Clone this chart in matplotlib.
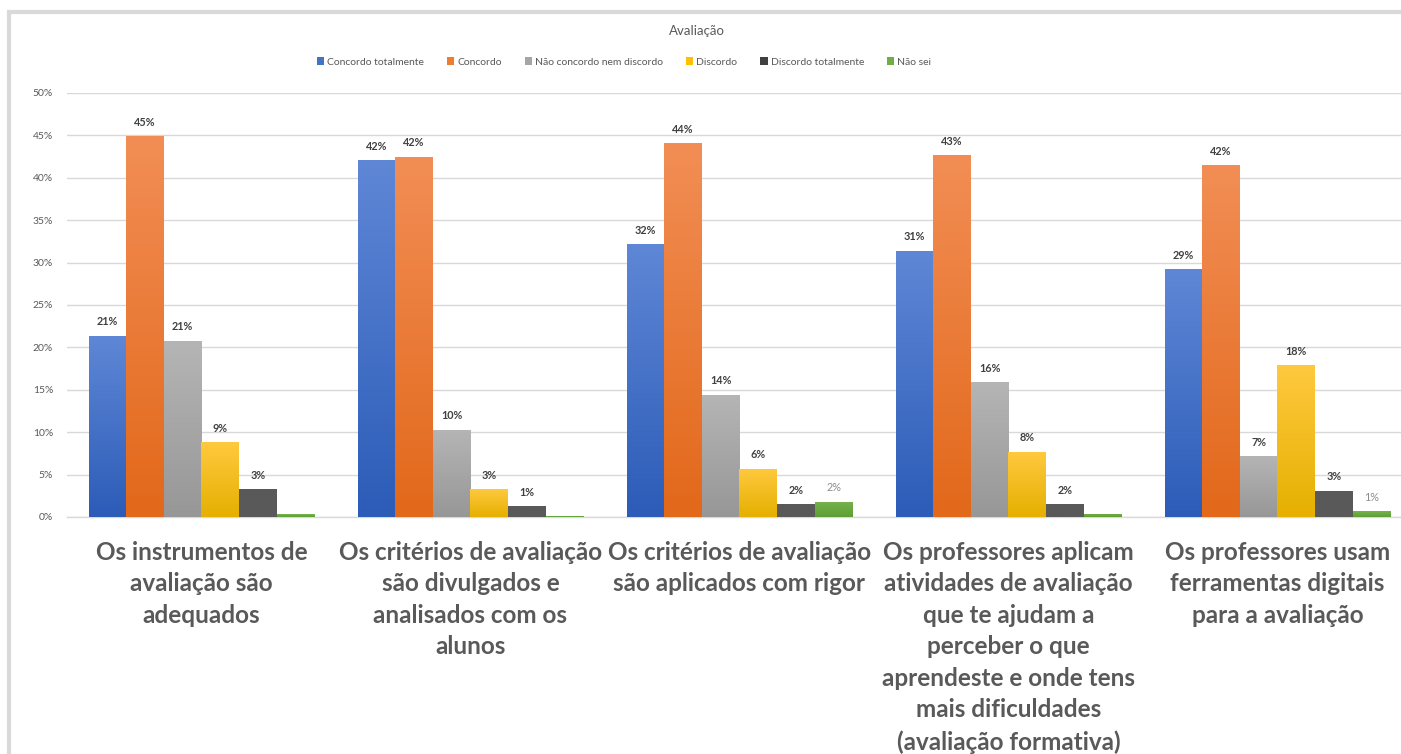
import matplotlib
matplotlib.use("Agg")
import matplotlib.pyplot as plt
import numpy as np
from matplotlib.patches import Rectangle, Patch
from matplotlib.colors import LinearSegmentedColormap

plt.rcParams['font.family'] = ['Lato', 'DejaVu Sans']

title = "Avaliação"
categories = [
    "Os instrumentos de\navaliação são\nadequados",
    "Os critérios de avaliação\nsão divulgados e\nanalisados com os\nalunos",
    "Os critérios de avaliação\nsão aplicados com rigor",
    "Os professores aplicam\natividades de avaliação\nque te ajudam a\nperceber o que\naprendeste e onde tens\nmais dificuldades\n(avaliação formativa)",
    "Os professores usam\nferramentas digitais\npara a avaliação",
]
series_names = ["Concordo totalmente", "Concordo", "Não concordo nem discordo",
                "Discordo", "Discordo totalmente", "Não sei"]
concordo_totalmente = [21.4, 42.1, 32.2, 31.4, 29.2]
concordo = [44.9, 42.5, 44.1, 42.7, 41.5]
nem = [20.8, 10.3, 14.4, 15.9, 7.2]
discordo = [8.8, 3.3, 5.7, 7.7, 17.9]
discordo_totalmente = [3.3, 1.3, 1.5, 1.5, 3.1]
nao_sei = [0.35, 0.1, 1.8, 0.4, 0.7]
series = [concordo_totalmente, concordo, nem, discordo, discordo_totalmente, nao_sei]
# which labels are shown per series/category
show_labels = [
    [True] * 5, [True] * 5, [True] * 5, [True] * 5, [True] * 5,
    [False, False, True, False, True],
]

colors_top = ["#5F87D6", "#F28E55", "#B5B5B5", "#FFC93F", "#595959", "#77B24E"]
colors_bot = ["#2C5CB8", "#E2681A", "#979797", "#E5B000", "#595959", "#5E9E34"]
legend_colors = ["#4472C4", "#ED7D31", "#A5A5A5", "#FFC000", "#404040", "#70AD47"]

fig = plt.figure(figsize=(14.01, 7.54), dpi=100)
ax = fig.add_axes([67/1401, 1-517/754, 1345/1401, (517-93)/754])

x = np.arange(len(categories))
w = 0.14
grad = np.linspace(1, 0, 256).reshape(-1, 1)
for i, (vals, name) in enumerate(zip(series, series_names)):
    off = (i - 2.5) * w
    bars = ax.bar(x + off, vals, w, color=colors_bot[i], zorder=2, linewidth=0)
    cmap = LinearSegmentedColormap.from_list("g%d" % i, [colors_bot[i], colors_top[i]])
    for j, b in enumerate(bars):
        im = ax.imshow(grad, cmap=cmap, aspect='auto', zorder=3,
                       extent=[b.get_x(), b.get_x() + b.get_width(), 0, b.get_height()],
                       interpolation='bilinear')
        im.set_clip_path(b)
        if show_labels[i][j]:
            is_green = (i == 5)
            ax.annotate("%d%%" % round(vals[j]), (b.get_x() + b.get_width()/2, b.get_height()),
                        xytext=(0, 10), textcoords='offset points', ha='center', va='center',
                        fontsize=7.8, fontweight='normal' if is_green else 'bold',
                        color='#8C8C8C' if is_green else '#404040', zorder=5)

ax.set_xlim(-0.5, len(categories) - 0.5)
ax.set_ylim(0, 50)
ax.set_yticks(np.arange(0, 51, 5))
ax.set_yticklabels(["%d%%" % v for v in range(0, 51, 5)], fontsize=7.5, color='#595959')
ax.grid(axis='y', color='#D9D9D9', linewidth=1, zorder=0)
ax.set_axisbelow(True)
for s in ['top', 'right', 'left']:
    ax.spines[s].set_visible(False)
ax.spines['bottom'].set_color('#D9D9D9')
ax.spines['bottom'].set_linewidth(1)
ax.tick_params(axis='y', length=0, pad=10)
ax.tick_params(axis='x', length=0, pad=17)
ax.set_xticks(x)
ax.set_xticklabels(categories, fontsize=17.5, fontweight='bold', color='#595959',
                   linespacing=1.45, va='top')

fig.text(697/1401, 1-31/754, title, ha='center', va='center', fontsize=9.5, color='#595959')
handles = [Patch(facecolor=c, edgecolor='none') for c in legend_colors]
fig.legend(handles, series_names, loc='center', bbox_to_anchor=(624/1401, 1-62/754),
           ncol=6, frameon=False, fontsize=7.5, handlelength=0.7, handleheight=0.7,
           handletextpad=0.3, columnspacing=2.2, labelcolor='#595959')

# outer frame
fig.patches.append(Rectangle((9/1401, -0.05), 1.1, 1 - 12/754 + 0.05, transform=fig.transFigure,
                             fill=False, edgecolor='#D9D9D9', linewidth=3, zorder=0))

fig.savefig("out.png", dpi=100)
